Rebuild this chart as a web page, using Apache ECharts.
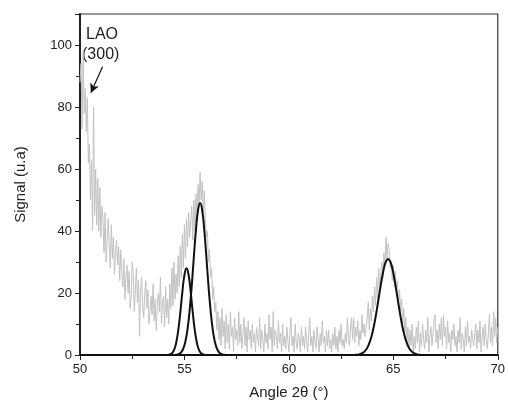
<!DOCTYPE html>
<html>
<head>
<meta charset="utf-8">
<script src="https://cdn.jsdelivr.net/npm/echarts@6/dist/echarts.min.js"></script>
<style>html,body{margin:0;padding:0;background:#fff}#c{width:508px;height:409px}</style>
</head>
<body>
<div id="c"></div>
<script>
// Measured signal: angle grid start/step, and intensities (one per 0.05°, 20 per degree row)
var signalStart = 50, signalStep = 0.05;
var signal = [
 88,94,73,98,78,86,72,83,62,68,50,63,40,80,45,60,42,57,40,54,
 38,48,44,33,46,30,37,44,36,28,42,31,38,26,33,37,29,35,24,34,
 27,22,31,18,25,29,20,27,15,19,30,26,14,21,28,17,24,6,21,25,
 16,12,20,24,15,21,10,14,19,13,23,11,18,8,16,20,14,25,10,17,
 19,9,22,12,18,10,23,15,28,16,30,18,26,20,32,22,35,25,39,28,
 42,31,44,35,46,38,43,48,37,50,40,52,45,55,48,59,50,56,46,53,
 44,38,40,30,34,25,28,18,22,14,17,8,14,5,12,3,15,6,11,2,
 13,4,10,2,14,6,9,1,12,5,8,3,14,4,10,2,7,12,3,9,
 1,11,5,8,2,10,4,7,1,9,6,3,12,2,8,5,1,10,4,7,
 2,13,5,9,1,14,3,8,6,2,11,4,7,1,10,3,6,2,9,5,
 1,8,12,3,6,1,10,4,2,7,5,1,9,3,6,2,9,4,1,7,
 12,3,6,1,8,4,2,9,5,1,7,3,11,4,6,1,8,3,8,2,
 5,1,7,3,9,2,6,1,8,4,10,3,5,2,7,4,12,6,3,9,
 12,5,12,4,9,6,11,3,8,5,13,7,10,6,9,12,17,8,15,11,
 19,14,22,16,25,18,28,21,26,30,25,33,29,38,31,36,34,28,30,24,
 29,22,27,20,24,17,21,14,18,10,15,7,12,4,9,2,8,3,10,1,
 6,2,9,4,11,1,7,3,10,5,2,8,4,12,1,6,9,3,7,11,
 13,4,8,2,10,5,12,3,13,6,9,2,11,4,7,1,8,5,10,3,
 6,1,8,4,12,2,7,5,1,9,3,11,4,6,2,8,5,3,7,10,
 2,8,4,11,1,6,9,3,10,5,2,7,13,4,9,3,14,6,12,4,
 9
];
// Fitted peak 1 (≈55.1°)
var fit1X = [50,54.2,54.3,54.4,54.5,54.6,54.7,54.8,54.9,55.0,55.1,55.2,55.3,55.4,55.5,55.6,55.7,55.8,55.9,56.0,70];
var fit1Y = [0,0.04,0.17,0.56,1.57,3.8,7.8,13.6,20.3,25.8,28,25.8,20.3,13.6,7.8,3.8,1.57,0.56,0.17,0.04,0];
// Fitted peak 2 (≈55.75°)
var fit2X = [50,54.45,54.55,54.65,54.75,54.85,54.95,55.05,55.15,55.25,55.35,55.45,55.55,55.65,55.75,55.85,55.95,56.05,56.15,56.25,56.35,56.45,56.55,56.65,56.75,56.85,56.95,57.05,70];
var fit2Y = [0,0.02,0.04,0.13,0.37,0.94,2.15,4.48,8.45,14.5,22.4,31.6,40.3,46.7,49,46.7,40.3,31.6,22.4,14.5,8.45,4.48,2.15,0.94,0.37,0.13,0.04,0.02,0];
// Fitted peak 3 (≈64.75°)
var fit3X = [50,63.05,63.15,63.25,63.35,63.45,63.55,63.65,63.75,63.85,63.95,64.05,64.15,64.25,64.35,64.45,64.55,64.65,64.75,64.85,64.95,65.05,65.15,65.25,65.35,65.45,65.55,65.65,65.75,65.85,65.95,66.05,66.15,66.25,66.35,66.45,70];
var fit3Y = [0,0,0.04,0.09,0.2,0.39,0.75,1.36,2.3,3.8,5.9,8.7,12.2,16.3,20.5,24.6,28.0,30.2,31,30.2,28.0,24.6,20.5,16.3,12.2,8.7,5.9,3.8,2.3,1.36,0.75,0.39,0.2,0.09,0.04,0,0];
// Annotation
var annotText = ['LAO', '(300)'];
var arrowFrom = [51.08, 93], arrowTo = [50.52, 84.6];

function pairs(xs, ys){ return xs.map(function(x,i){ return [x, ys[i]]; }); }
var signalData = signal.map(function(v,i){ return [+(signalStart + i*signalStep).toFixed(2), v]; });

var font = 'Liberation Sans, Arial, sans-serif';
var chart = echarts.init(document.getElementById('c'), null, {renderer:'canvas'});
chart.setOption({
  animation: false,
  backgroundColor: '#fff',
  grid: {left: 80, right: 8, top: 14, bottom: 54, show: true, borderColor: '#333', borderWidth: 1.2},
  xAxis: {
    type: 'value', min: 50, max: 70, interval: 5,
    name: 'Angle 2θ (°)', nameLocation: 'middle', nameGap: 30,
    nameTextStyle: {fontFamily: font, fontSize: 15, color: '#222'},
    axisLine: {show: true, onZero: false, lineStyle: {color: '#222', width: 2}},
    axisTick: {show: true, inside: false, length: 5, lineStyle: {color: '#222', width: 1}},
    minorTick: {show: true, splitNumber: 2, length: 4, lineStyle: {color: '#222', width: 1}},
    axisLabel: {fontFamily: font, fontSize: 13, color: '#222', margin: 8},
    splitLine: {show: false}
  },
  yAxis: {
    type: 'value', min: 0, max: 110, interval: 20,
    name: 'Signal (u.a)', nameLocation: 'middle', nameGap: 52,
    nameTextStyle: {fontFamily: font, fontSize: 15, color: '#222'},
    axisLine: {show: true, lineStyle: {color: '#222', width: 2}},
    axisTick: {show: true, inside: false, length: 5, lineStyle: {color: '#222', width: 1}},
    minorTick: {show: true, splitNumber: 2, length: 4, lineStyle: {color: '#222', width: 1}},
    axisLabel: {fontFamily: font, fontSize: 13, color: '#222', margin: 8, showMaxLabel: false},
    splitLine: {show: false}
  },
  series: [
    {type: 'line', data: signalData, showSymbol: false, symbol: 'none',
     lineStyle: {color: '#c2c2c2', width: 1}, z: 2,
     markLine: {silent: true, symbol: ['none', 'arrow'], symbolSize: [7, 9],
       lineStyle: {color: '#111', width: 1.2, type: 'solid'}, label: {show: false},
       data: [[{coord: arrowFrom}, {coord: arrowTo}]]}},
    {type: 'line', data: pairs(fit1X, fit1Y), smooth: true, showSymbol: false, symbol: 'none',
     lineStyle: {color: '#111', width: 2}, z: 3},
    {type: 'line', data: pairs(fit2X, fit2Y), smooth: true, showSymbol: false, symbol: 'none',
     lineStyle: {color: '#111', width: 2}, z: 3},
    {type: 'line', data: pairs(fit3X, fit3Y), smooth: true, showSymbol: false, symbol: 'none',
     lineStyle: {color: '#111', width: 2}, z: 3}
  ],
  graphic: [
    {type: 'text', left: 86, top: 27, style: {text: annotText[0], font: '16px ' + font, fill: '#222'}},
    {type: 'text', left: 82, top: 47, style: {text: annotText[1], font: '16px ' + font, fill: '#222'}}
  ]
});
</script>
</body>
</html>
